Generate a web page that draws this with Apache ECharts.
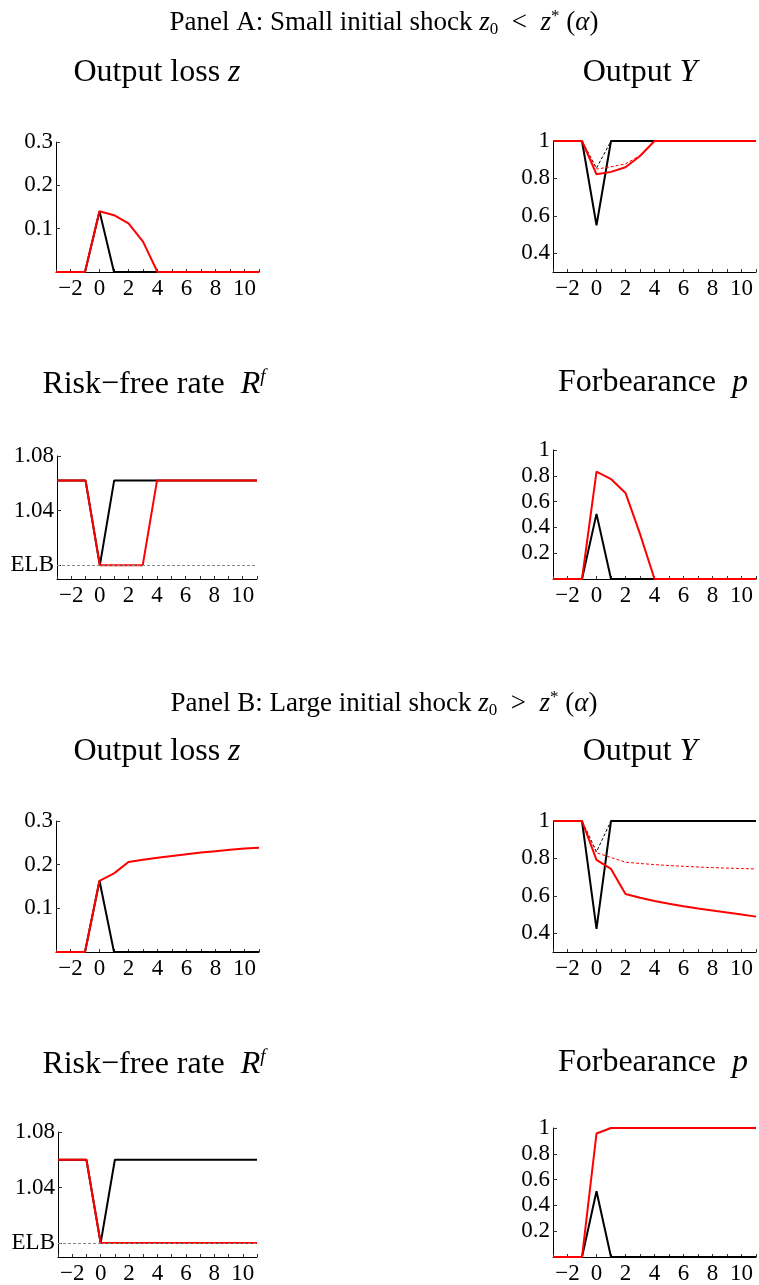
<!DOCTYPE html>
<html>
<head>
<meta charset="utf-8">
<script src="https://cdn.jsdelivr.net/npm/echarts@6/dist/echarts.min.js"></script>
<style>
  html, body { margin: 0; padding: 0; background: #fff; }
  #main { width: 759px; height: 1285px; }
</style>
</head>
<body>
<div id="main"></div>
<script>
// periods t = -3 .. 11
var periods = [-3, -2, -1, 0, 1, 2, 3, 4, 5, 6, 7, 8, 9, 10, 11];
var xLabelTicks = [-2, 0, 2, 4, 6, 8, 10];
var xMinorTicks = [-3, -2, -1, 0, 1, 2, 3, 4, 5, 6, 7, 8, 9, 10, 11];

// Panel A: small initial shock
var zA_black = [0, 0, 0, 0.14, 0, 0, 0, 0, 0, 0, 0, 0, 0, 0, 0];
var zA_red = [0, 0, 0, 0.14, 0.131, 0.112, 0.07, 0, 0, 0, 0, 0, 0, 0, 0];
var yA_black = [1, 1, 1, 0.55, 1, 1, 1, 1, 1, 1, 1, 1, 1, 1, 1];
var yA_blackDash = [1, 1, 1, 0.855, 1, 1, 1, 1, 1, 1, 1, 1, 1, 1, 1];
var yA_red = [1, 1, 1, 0.822, 0.835, 0.86, 0.92, 1, 1, 1, 1, 1, 1, 1, 1];
var yA_redDash = [1, 1, 1, 0.85, 0.862, 0.878, 0.922, 1, 1, 1, 1, 1, 1, 1, 1];
var rA_black = [1.062, 1.062, 1.062, 1.0, 1.062, 1.062, 1.062, 1.062, 1.062, 1.062, 1.062, 1.062, 1.062, 1.062, 1.062];
var rA_red = [1.062, 1.062, 1.062, 1.0, 1.0, 1.0, 1.0, 1.062, 1.062, 1.062, 1.062, 1.062, 1.062, 1.062, 1.062];
var pA_black = [0, 0, 0, 0.505, 0, 0, 0, 0, 0, 0, 0, 0, 0, 0, 0];
var pA_red = [0, 0, 0, 0.833, 0.775, 0.667, 0.35, 0, 0, 0, 0, 0, 0, 0, 0];

// Panel B: large initial shock
var zB_black = [0, 0, 0, 0.163, 0, 0, 0, 0, 0, 0, 0, 0, 0, 0, 0];
var zB_red = [0, 0, 0, 0.163, 0.18, 0.206, 0.211, 0.216, 0.22, 0.224, 0.228, 0.231, 0.234, 0.237, 0.239];
var yB_black = [1, 1, 1, 0.424, 1, 1, 1, 1, 1, 1, 1, 1, 1, 1, 1];
var yB_blackDash = [1, 1, 1, 0.836, 1, 1, 1, 1, 1, 1, 1, 1, 1, 1, 1];
var yB_red = [1, 1, 1, 0.792, 0.744, 0.61, 0.59, 0.573, 0.558, 0.545, 0.533, 0.522, 0.511, 0.5, 0.489];
var yB_redDash = [1, 1, 1, 0.83, 0.805, 0.78, 0.773, 0.767, 0.762, 0.758, 0.754, 0.751, 0.748, 0.746, 0.744];
var rB_black = [1.06, 1.06, 1.06, 1.0, 1.06, 1.06, 1.06, 1.06, 1.06, 1.06, 1.06, 1.06, 1.06, 1.06, 1.06];
var rB_red = [1.06, 1.06, 1.06, 1.0, 1.0, 1.0, 1.0, 1.0, 1.0, 1.0, 1.0, 1.0, 1.0, 1.0, 1.0];
var pB_black = [0, 0, 0, 0.51, 0, 0, 0, 0, 0, 0, 0, 0, 0, 0, 0];
var pB_red = [0, 0, 0, 0.957, 1, 1, 1, 1, 1, 1, 1, 1, 1, 1, 1];

// y tick labels per panel
var zTicks = [0.1, 0.2, 0.3];
var yTicks = [0.4, 0.6, 0.8, 1];
var rTicks = [1.0, 1.04, 1.08];
var pTicks = [0.2, 0.4, 0.6, 0.8, 1];

var FONT = '"Liberation Serif", "DejaVu Serif", serif';
var RED = '#ff0000';
var BLACK = '#000000';

function pairs(arr) {
    return periods.map(function (t, i) { return [t, arr[i]]; });
}

// grids: [left, top, width, height]
var grids = [
    [56, 142, 203, 130],   // A z
    [553, 141, 203, 131],  // A Y
    [57, 456, 200, 123],   // A Rf
    [553, 450, 203, 129],  // A p
    [56, 821, 203, 131],   // B z
    [553, 821, 203, 131],  // B Y
    [58, 1132, 199, 127],  // B Rf
    [553, 1128, 203, 131]  // B p
];
var yRanges = [
    [0, 0.3, zTicks], [0.3, 1, yTicks], [0.99, 1.08, rTicks], [0, 1, pTicks],
    [0, 0.3, zTicks], [0.3, 1, yTicks], [0.99, 1.08, rTicks], [0, 1, pTicks]
];

var option = {
    animation: false,
    backgroundColor: '#fff',
    grid: [],
    xAxis: [],
    yAxis: [],
    series: [],
    title: []
};

grids.forEach(function (g, k) {
    option.grid.push({left: g[0], top: g[1], width: g[2], height: g[3]});
    option.xAxis.push({
        type: 'value', gridIndex: k, min: -3, max: 11,
        axisLine: {onZero: false, lineStyle: {color: BLACK, width: 1}},
        axisTick: {inside: true, length: 3, customValues: xMinorTicks, lineStyle: {color: '#333'}},
        axisLabel: {
            customValues: xLabelTicks, margin: 5, color: BLACK,
            fontFamily: FONT, fontSize: 23,
            formatter: function (v) { return v < 0 ? '\u2212' + Math.abs(v) : String(v); }
        },
        splitLine: {show: false}
    });
    var yr = yRanges[k];
    var isRate = (k === 2 || k === 6);
    option.yAxis.push({
        type: 'value', gridIndex: k, min: yr[0], max: yr[1],
        axisLine: {show: true, onZero: false, lineStyle: {color: BLACK, width: 1}},
        axisTick: {show: true, inside: true, length: 4, customValues: yr[2], lineStyle: {color: '#333'}},
        axisLabel: {
            customValues: yr[2], margin: 3, color: BLACK,
            fontFamily: FONT, fontSize: 23,
            formatter: function (v) {
                if (isRate && Math.abs(v - 1) < 1e-6) return 'ELB';
                if (isRate) return v.toFixed(2);
                return Math.abs(v - 1) < 1e-6 ? '1' : String(Math.round(v * 10) / 10);
            }
        },
        splitLine: {show: false}
    });
});

function line(k, data, color, dashed) {
    return {
        type: 'line', xAxisIndex: k, yAxisIndex: k, data: pairs(data),
        symbol: 'none', silent: true,
        lineStyle: {color: color, width: dashed ? 1 : 2, type: dashed ? [3, 2] : 'solid'}
    };
}

var elbLine = {
    symbol: 'none', silent: true, label: {show: false},
    lineStyle: {color: '#888', width: 1, type: [3, 2]},
    data: [{yAxis: 1.0}]
};

// Panel A
option.series.push(line(0, zA_black, BLACK), line(0, zA_red, RED));
option.series.push(line(1, yA_blackDash, BLACK, true), line(1, yA_black, BLACK),
    line(1, yA_redDash, RED, true), line(1, yA_red, RED));
var sA = line(2, rA_black, BLACK);
sA.markLine = elbLine;
option.series.push(sA, line(2, rA_red, RED));
option.series.push(line(3, pA_black, BLACK), line(3, pA_red, RED));
// Panel B
option.series.push(line(4, zB_black, BLACK), line(4, zB_red, RED));
option.series.push(line(5, yB_blackDash, BLACK, true), line(5, yB_black, BLACK),
    line(5, yB_redDash, RED, true), line(5, yB_red, RED));
var sB = line(6, rB_black, BLACK);
sB.markLine = elbLine;
option.series.push(sB, line(6, rB_red, RED));
option.series.push(line(7, pB_black, BLACK), line(7, pB_red, RED));

// titles
var richBig = {
    n: {fontFamily: FONT, fontSize: 32, fontWeight: 'normal', color: BLACK, lineHeight: 36},
    i: {fontFamily: FONT, fontSize: 32, fontWeight: 'normal', fontStyle: 'italic', color: BLACK, lineHeight: 36},
    sup: {fontFamily: FONT, fontSize: 19, fontWeight: 'normal', fontStyle: 'italic', color: BLACK, lineHeight: 14, verticalAlign: 'top'}
};
var richPanel = {
    n: {fontFamily: FONT, fontSize: 27, fontWeight: 'normal', color: BLACK, lineHeight: 30},
    i: {fontFamily: FONT, fontSize: 27, fontWeight: 'normal', fontStyle: 'italic', color: BLACK, lineHeight: 30},
    sub: {fontFamily: FONT, fontSize: 17, fontWeight: 'normal', color: BLACK, lineHeight: 12, verticalAlign: 'bottom'},
    sup: {fontFamily: FONT, fontSize: 17, fontWeight: 'normal', color: BLACK, lineHeight: 14, verticalAlign: 'top'}
};
function title(text, cx, top, rich) {
    return {text: text, left: cx, top: top, textAlign: 'center', padding: 0,
        textStyle: {fontWeight: 'normal', rich: rich}};
}
option.title.push(
    title('{n|Panel A: Small initial shock }{i|z}{sub|0}{n|  <  }{i|z}{sup|*}{n| (}{i|\u03b1}{n|)}', 384, 8, richPanel),
    title('{n|Output loss }{i|z}', 157, 55, richBig),
    title('{n|Output }{i|Y}', 640, 55, richBig),
    title('{n|Risk\u2212free rate  }{i|R}{sup|f}', 154, 367, richBig),
    title('{n|Forbearance  }{i|p}', 653, 365, richBig),
    title('{n|Panel B: Large initial shock }{i|z}{sub|0}{n|  >  }{i|z}{sup|*}{n| (}{i|\u03b1}{n|)}', 384, 689, richPanel),
    title('{n|Output loss }{i|z}', 157, 734, richBig),
    title('{n|Output }{i|Y}', 640, 734, richBig),
    title('{n|Risk\u2212free rate  }{i|R}{sup|f}', 154, 1047, richBig),
    title('{n|Forbearance  }{i|p}', 653, 1045, richBig)
);

var myChart = echarts.init(document.getElementById('main'));
myChart.setOption(option);
</script>
</body>
</html>
